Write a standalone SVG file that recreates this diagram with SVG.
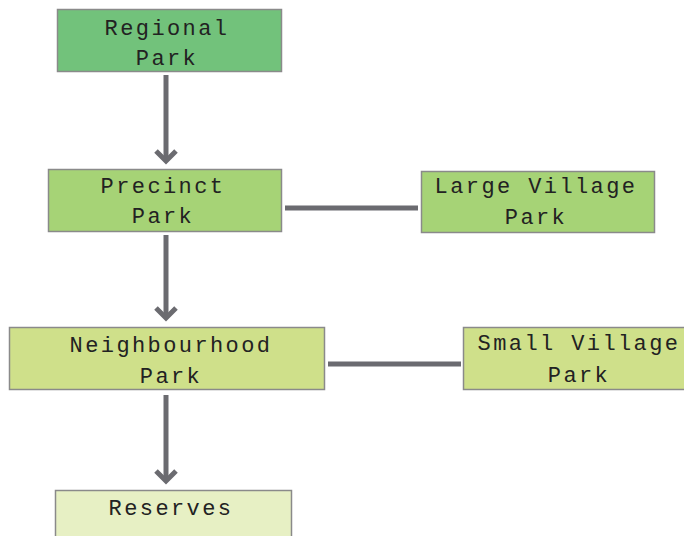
<svg xmlns="http://www.w3.org/2000/svg" width="684" height="536" viewBox="0 0 684 536">
<style>
.box{stroke:#8a8a8a;stroke-width:1.5}
.t{font-family:"Liberation Mono","Courier New",monospace;font-size:22px;letter-spacing:2.4px;fill:#222;text-anchor:middle}
.ln{stroke:#6b6b70;stroke-width:5;fill:none}
.ah{stroke:#6b6b70;stroke-width:5;fill:none;stroke-linejoin:miter}
</style>
<rect width="684" height="536" fill="#fff"/>
<g id="connectors">
<line class="ln" x1="166" y1="75" x2="166" y2="160"/>
<polyline class="ah" points="156,151 166,161 176,151"/>
<line class="ln" x1="166" y1="235" x2="166" y2="317"/>
<polyline class="ah" points="156,308 166,318 176,308"/>
<line class="ln" x1="166" y1="395" x2="166" y2="480"/>
<polyline class="ah" points="156,471 166,481 176,471"/>
<line class="ln" x1="285" y1="208" x2="418" y2="208"/>
<line class="ln" x1="328" y1="364" x2="461" y2="364"/>
</g>
<g id="regional">
<rect class="box" x="57.5" y="9.5" width="224" height="62" fill="#72c27b"/>
<text class="t" x="167" y="35">Regional</text>
<text class="t" x="167" y="65">Park</text>
</g>
<g id="precinct">
<rect class="box" x="48.5" y="169.5" width="233" height="62" fill="#a6d376"/>
<text class="t" x="163" y="193">Precinct</text>
<text class="t" x="163" y="223">Park</text>
</g>
<g id="large-village">
<rect class="box" x="421.5" y="171.5" width="233" height="61" fill="#a6d376"/>
<text class="t" x="536" y="193">Large Village</text>
<text class="t" x="536" y="224">Park</text>
</g>
<g id="neighbourhood">
<rect class="box" x="9.5" y="327.5" width="315" height="62" fill="#cfe08a"/>
<text class="t" x="171" y="352">Neighbourhood</text>
<text class="t" x="171" y="383">Park</text>
</g>
<g id="small-village">
<rect class="box" x="463.5" y="327.5" width="222" height="62" fill="#cfe08a"/>
<text class="t" x="579" y="350">Small Village</text>
<text class="t" x="579" y="382">Park</text>
</g>
<g id="reserves">
<rect class="box" x="55.5" y="490.5" width="236" height="60" fill="#e7f0c4"/>
<text class="t" x="171" y="515">Reserves</text>
</g>
</svg>
